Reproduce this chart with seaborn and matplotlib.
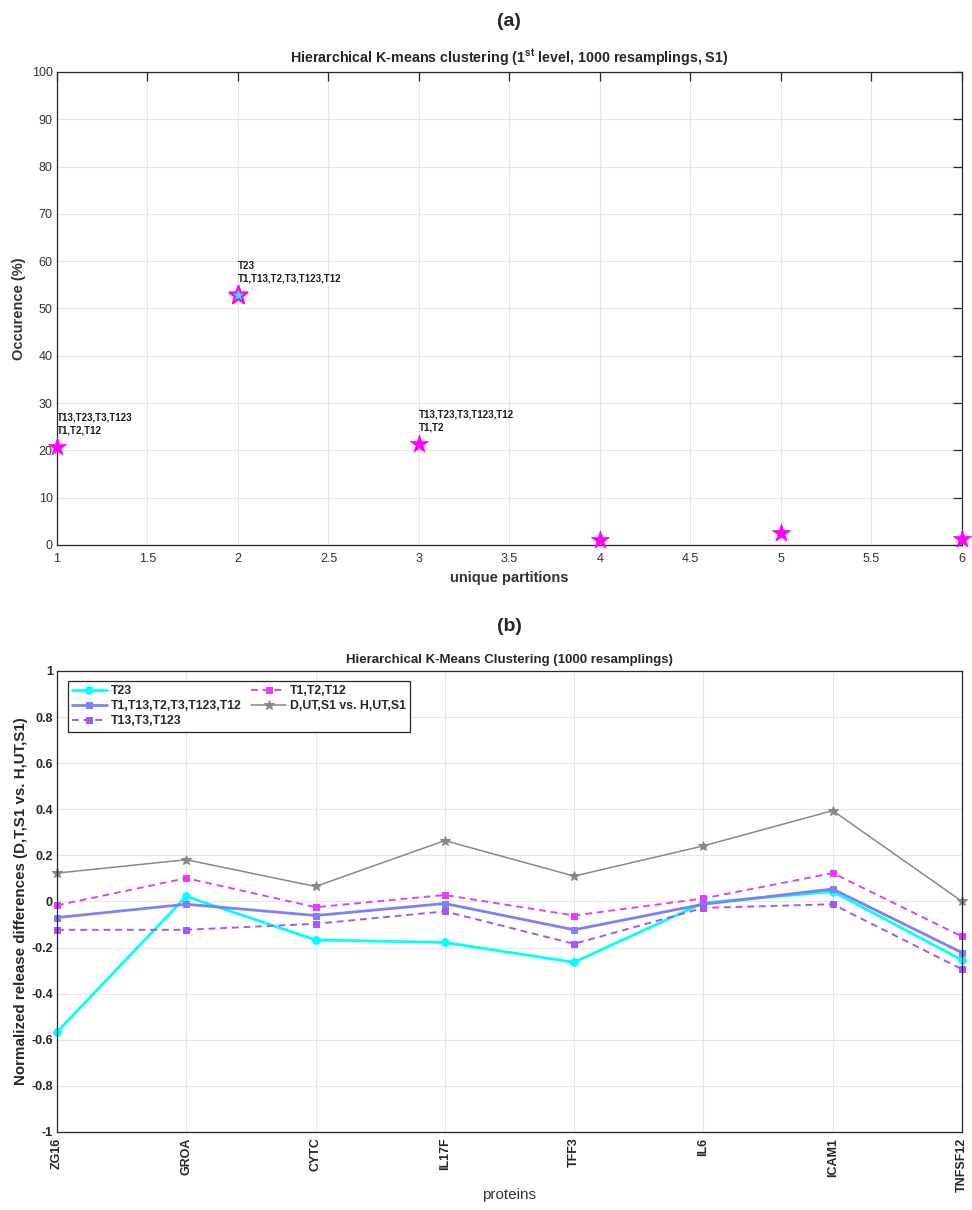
import numpy as np
import pandas as pd
import matplotlib
matplotlib.use("Agg")
import matplotlib.pyplot as plt
from matplotlib.ticker import FuncFormatter, MultipleLocator
import seaborn as sns

# ---------------- data ----------------
partitions = [1, 2, 3, 4, 5, 6]
occurrence = [20.7, 52.9, 21.4, 1.1, 2.5, 1.3]
partition_line1 = ["T13,T23,T3,T123", "T23", "T13,T23,T3,T123,T12", "", "", ""]
partition_line2 = ["T1,T2,T12", "T1,T13,T2,T3,T123,T12", "T1,T2", "", "", ""]
highlight = [False, True, False, False, False, False]

proteins = ["ZG16", "GROA", "CYTC", "IL17F", "TFF3", "IL6", "ICAM1", "TNFSF12"]
t23 = [-0.567, 0.022, -0.167, -0.178, -0.264, -0.006, 0.043, -0.254]
t_all6 = [-0.070, -0.012, -0.061, -0.009, -0.123, -0.012, 0.054, -0.222]
t13_t3_t123 = [-0.123, -0.123, -0.097, -0.043, -0.184, -0.028, -0.012, -0.294]
t1_t2_t12 = [-0.017, 0.101, -0.025, 0.028, -0.061, 0.013, 0.123, -0.152]
reference = [0.123, 0.181, 0.065, 0.264, 0.110, 0.241, 0.394, 0.0]
series_names = ["T23", "T1,T13,T2,T3,T123,T12", "T13,T3,T123", "T1,T2,T12",
                "D,UT,S1 vs. H,UT,S1"]

# ---------------- style ----------------
sns.set_theme(style="whitegrid")
plt.rcParams.update({
    "font.family": ["Liberation Sans", "DejaVu Sans"],
    "axes.unicode_minus": False,
    "mathtext.fontset": "custom",
    "mathtext.rm": "Liberation Sans",
    "mathtext.bf": "Liberation Sans:bold",
    "grid.color": "#e6e6e6",
    "grid.linewidth": 0.8,
    "axes.edgecolor": "#262626",
    "axes.linewidth": 0.9,
})
spine_col = "#262626"
fmt = FuncFormatter(lambda v, p: "%g" % round(v, 6))

fig = plt.figure(figsize=(9.72, 12.1), dpi=100)
ax1 = fig.add_axes([0.0586, 0.5496, 0.9311, 0.3909])
ax2 = fig.add_axes([0.0586, 0.0645, 0.9311, 0.381])

# ---------------- panel (a) ----------------
df_a = pd.DataFrame({"partition": partitions, "occurrence": occurrence,
                     "highlight": highlight})
sns.scatterplot(data=df_a, x="partition", y="occurrence", ax=ax1, marker="*",
                s=190, color="#ff00ff", edgecolor="#ff00ff", linewidth=0.5,
                legend=False, zorder=3, clip_on=False)
sns.scatterplot(data=df_a[df_a["highlight"]], x="partition", y="occurrence",
                ax=ax1, marker="*", s=190, color="#00ffff", edgecolor="#ff00ff",
                linewidth=1.6, legend=False, zorder=4, clip_on=False)
for xp, yp, l1, l2 in zip(partitions, occurrence, partition_line1, partition_line2):
    if l1:
        ax1.annotate(l1, (xp, yp), xytext=(0, 21), textcoords="offset points",
                     ha="left", va="center", fontsize=7, fontweight="bold",
                     color="#1a1a1a")
    if l2:
        ax1.annotate(l2, (xp, yp), xytext=(0, 12), textcoords="offset points",
                     ha="left", va="center", fontsize=7, fontweight="bold",
                     color="#1a1a1a")

ax1.set_xlim(1, 6)
ax1.set_ylim(0, 100)
ax1.xaxis.set_major_locator(MultipleLocator(0.5))
ax1.yaxis.set_major_locator(MultipleLocator(10))
ax1.xaxis.set_major_formatter(fmt)
ax1.yaxis.set_major_formatter(fmt)
ax1.tick_params(axis="both", direction="in", length=6.5, width=0.9,
                colors=spine_col, labelsize=9, top=True, right=True,
                labelcolor="#333333")
ax1.tick_params(axis="x", pad=6)
ax1.tick_params(axis="y", pad=3)
ax1.grid(True)
for sp in ax1.spines.values():
    sp.set_visible(True)
    sp.set_color(spine_col)
ax1.set_xlabel("unique partitions", fontsize=10.5, fontweight="bold",
               color="#333333", labelpad=4)
ax1.set_ylabel("Occurence (%)", fontsize=10.5, fontweight="bold",
               color="#333333", labelpad=4)
ax1.set_title(r"Hierarchical K-means clustering (1$^{\mathbf{st}}$ level, 1000 resamplings, S1)",
              fontsize=10.3, fontweight="bold", pad=7)

# ---------------- panel (b) ----------------
styles = [
    dict(color="#00ffff", marker="o", lw=2.0, ls="-", ms=5.5, dashes=None),
    dict(color="#7f7ff7", marker="s", lw=2.0, ls="-", ms=5, dashes=None),
    dict(color="#a855f7", marker="s", lw=1.4, ls="--", ms=5, dashes=(3.5, 2.5)),
    dict(color="#e040fb", marker="s", lw=1.4, ls="--", ms=5, dashes=(3.5, 2.5)),
    dict(color="#888888", marker="*", lw=1.1, ls="-", ms=7, dashes=None),
]
all_series = [t23, t_all6, t13_t3_t123, t1_t2_t12, reference]
handles = []
for name, vals, st in zip(series_names, all_series, styles):
    df_b = pd.DataFrame({"protein": proteins, "value": vals})
    sns.lineplot(data=df_b, x="protein", y="value", ax=ax2, sort=False,
                 color=st["color"], marker=st["marker"], linewidth=st["lw"],
                 markersize=st["ms"], markeredgecolor=st["color"],
                 linestyle=st["ls"], label=name, legend=False, clip_on=False)
    line = ax2.lines[-1]
    if st["dashes"] is not None:
        line.set_dashes(st["dashes"])
    handles.append(line)
leg = ax2.legend(handles, series_names,
                 ncol=2, loc="upper left", bbox_to_anchor=(0.0122, 0.978),
                 borderaxespad=0, frameon=True, fancybox=False,
                 framealpha=1, edgecolor="#262626", handlelength=2.8,
                 handletextpad=0.35, columnspacing=0.8, labelspacing=0.25,
                 borderpad=0.35, prop={"weight": "bold", "size": 8.8})
leg.get_frame().set_linewidth(0.9)
leg.set_zorder(10)

ax2.set_xlim(0, len(proteins) - 1)
ax2.set_ylim(-1, 1)
ax2.yaxis.set_major_locator(MultipleLocator(0.2))
ax2.yaxis.set_major_formatter(fmt)
ax2.tick_params(axis="both", direction="in", length=6.5, width=0.9,
                colors=spine_col, labelsize=9, labelcolor="#262626")
ax2.tick_params(axis="x", rotation=90, pad=4)
ax2.tick_params(axis="y", pad=3)
for lab in ax2.get_xticklabels() + ax2.get_yticklabels():
    lab.set_fontweight("bold")
ax2.grid(True)
for sp in ax2.spines.values():
    sp.set_visible(True)
    sp.set_color(spine_col)
ax2.set_xlabel("proteins", fontsize=11, color="#333333")
ax2.xaxis.set_label_coords(0.5, -0.122)
ax2.set_ylabel("Normalized release differences (D,T,S1 vs. H,UT,S1)",
               fontsize=10.9, fontweight="bold", color="#262626", labelpad=2)
ax2.set_title("Hierarchical K-Means Clustering (1000 resamplings)",
              fontsize=9.5, fontweight="bold", pad=6)

fig.text(0.524, 0.982, "(a)", ha="center", va="center", fontsize=14,
         fontweight="bold")
fig.text(0.524, 0.482, "(b)", ha="center", va="center", fontsize=14,
         fontweight="bold")

fig.savefig("out.png", dpi=100)
